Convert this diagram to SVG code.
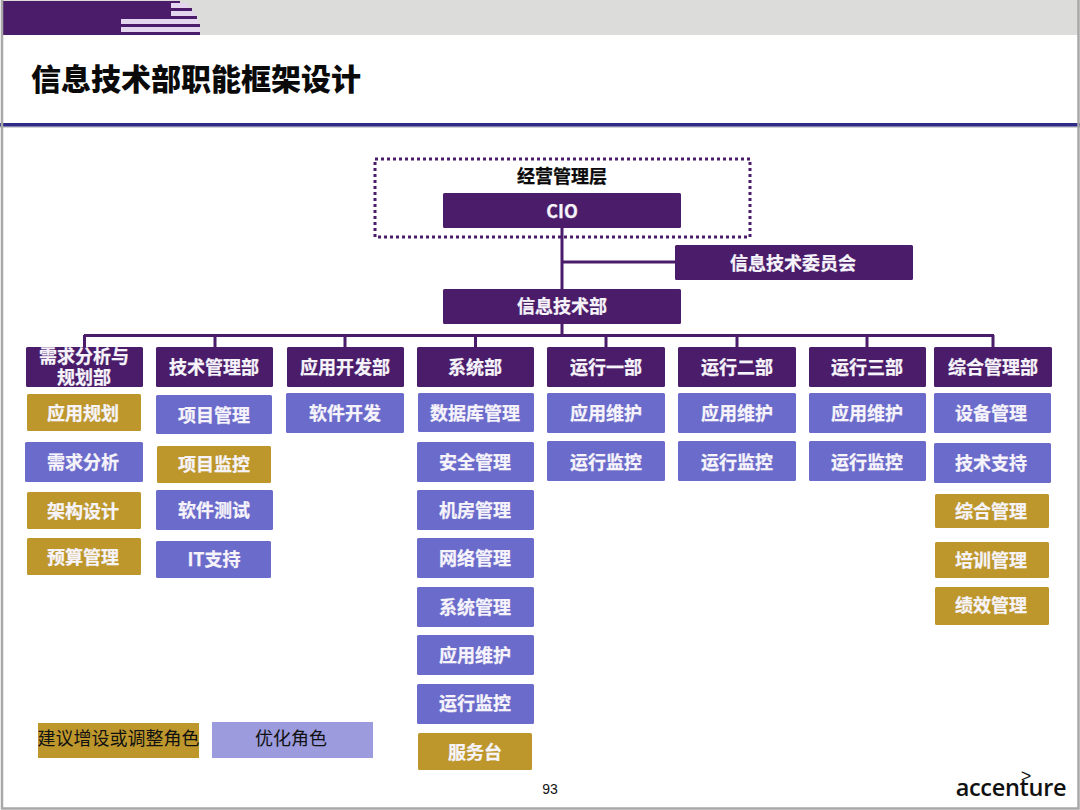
<svg xmlns="http://www.w3.org/2000/svg" width="1080" height="810" viewBox="0 0 1080 810">
<style>
text{font-family:"Noto Sans CJK SC","Noto Sans",sans-serif;text-anchor:middle}
.n rect{rx:1.5px}
.p rect{fill:#4a1c6a}
.b rect{fill:#6b6bcb}
.g rect{fill:#bd972c}
.n text{font-size:18px;font-weight:700;fill:#f6f4fa;stroke:#f6f4fa;stroke-width:.25px}
.c line{stroke:#4a1c6a;stroke-width:3;fill:none}
.k{font-size:18px;fill:#111}
</style>
<rect width="1080" height="810" fill="#fff"/>
<g id="frame">
<rect x="2" y="0" width="1076" height="35" fill="#dcdcda"/>
<path d="M2 1H180V3H171V8H192V11H171V16H197V19H121V24H200V27H121V32H200V35H2Z" fill="#4a1c6a"/>
<path d="M171 3H186L190 8H171ZM171 11H194L196 16H171ZM121 19H198L199 24H121ZM121 27H200V32H121Z" fill="#e4d6ee"/>
<rect x="0" y="126" width="1080" height="2" fill="#d4d4d8"/>
<rect x="0" y="123" width="1080" height="3.500" fill="#2e2a85"/>
<path d="M2 0V808.500H1078.500V0" fill="none" stroke="#a8a8a8" stroke-width="2.500"/>
<text x="196" y="90" style="font-size:30px;font-weight:900;fill:#0a0a0a">信息技术部职能框架设计</text>
</g>
<g class="c" id="connectors">
<line x1="562" y1="226" x2="562" y2="291"/>
<line x1="562" y1="262" x2="676" y2="262"/>
<line x1="562" y1="322" x2="562" y2="336"/>
<line x1="84" y1="335.500" x2="994" y2="335.500"/>
<line x1="84.500" y1="335" x2="84.500" y2="349"/>
<line x1="215" y1="335" x2="215" y2="349"/>
<line x1="345" y1="335" x2="345" y2="349"/>
<line x1="475.500" y1="335" x2="475.500" y2="349"/>
<line x1="606" y1="335" x2="606" y2="349"/>
<line x1="737" y1="335" x2="737" y2="349"/>
<line x1="867" y1="335" x2="867" y2="349"/>
<line x1="993" y1="335" x2="993" y2="349"/>
</g>
<rect id="mgmt-layer" x="375" y="159" width="375" height="78" fill="none" stroke="#4a1c6a" stroke-width="3" stroke-dasharray="3 3"/>
<text x="562" y="183" style="font-size:18px;font-weight:700;fill:#0a0a0a;stroke:#0a0a0a;stroke-width:.25px">经营管理层</text>
<g class="n p" id="cio"><rect x="443" y="193" width="238" height="35"/><text x="562" y="218">CIO</text></g>
<g class="n p" id="committee"><rect x="675" y="245" width="238" height="35"/><text x="793" y="270">信息技术委员会</text></g>
<g class="n p" id="it-dept"><rect x="443" y="289" width="238" height="35"/><text x="562" y="313">信息技术部</text></g>

<g class="n p" id="h1"><rect x="26" y="347" width="117" height="40"/><text x="84" y="363">需求分析与<tspan x="84" dy="21">规划部</tspan></text></g>
<g class="n p" id="h2"><rect x="156" y="347" width="117" height="40"/><text x="214" y="374">技术管理部</text></g>
<g class="n p" id="h3"><rect x="287" y="347" width="117" height="40"/><text x="345" y="374">应用开发部</text></g>
<g class="n p" id="h4"><rect x="417" y="347" width="117" height="40"/><text x="475" y="374">系统部</text></g>
<g class="n p" id="h5"><rect x="547" y="347" width="118" height="40"/><text x="606" y="374">运行一部</text></g>
<g class="n p" id="h6"><rect x="678" y="347" width="118" height="40"/><text x="737" y="374">运行二部</text></g>
<g class="n p" id="h7"><rect x="809" y="347" width="117" height="40"/><text x="867" y="374">运行三部</text></g>
<g class="n p" id="h8"><rect x="934" y="347" width="118" height="40"/><text x="993" y="374">综合管理部</text></g>

<g class="n g" id="c1a"><rect x="27" y="394" width="114" height="37"/><text x="83" y="420">应用规划</text></g>
<g class="n b" id="c1b"><rect x="25" y="442" width="118" height="40"/><text x="83" y="469">需求分析</text></g>
<g class="n g" id="c1c"><rect x="27" y="492" width="114" height="37"/><text x="83" y="518">架构设计</text></g>
<g class="n g" id="c1d"><rect x="27" y="538" width="114" height="37"/><text x="83" y="564">预算管理</text></g>

<g class="n b" id="c2a"><rect x="156" y="395" width="116" height="39"/><text x="214" y="422">项目管理</text></g>
<g class="n g" id="c2b"><rect x="157" y="446" width="114" height="37"/><text x="214" y="471">项目监控</text></g>
<g class="n b" id="c2c"><rect x="156" y="490" width="117" height="40"/><text x="214" y="517">软件测试</text></g>
<g class="n b" id="c2d"><rect x="156" y="541" width="115" height="37"/><text x="214" y="566">IT支持</text></g>

<g class="n b" id="c3a"><rect x="286" y="393" width="118" height="40"/><text x="345" y="420">软件开发</text></g>

<g class="n b" id="c4a"><rect x="418" y="393" width="116" height="39"/><text x="475" y="420">数据库管理</text></g>
<g class="n b" id="c4b"><rect x="417" y="442" width="117" height="40"/><text x="475" y="469">安全管理</text></g>
<g class="n b" id="c4c"><rect x="417" y="490" width="117" height="40"/><text x="475" y="517">机房管理</text></g>
<g class="n b" id="c4d"><rect x="417" y="538" width="117" height="40"/><text x="475" y="565">网络管理</text></g>
<g class="n b" id="c4e"><rect x="417" y="587" width="117" height="40"/><text x="475" y="614">系统管理</text></g>
<g class="n b" id="c4f"><rect x="417" y="635" width="117" height="40"/><text x="475" y="662">应用维护</text></g>
<g class="n b" id="c4g"><rect x="417" y="684" width="117" height="40"/><text x="475" y="710">运行监控</text></g>
<g class="n g" id="c4h"><rect x="418" y="733" width="114" height="37"/><text x="475" y="759">服务台</text></g>

<g class="n b" id="c5a"><rect x="547" y="393" width="118" height="40"/><text x="606" y="420">应用维护</text></g>
<g class="n b" id="c5b"><rect x="547" y="441" width="118" height="40"/><text x="606" y="469">运行监控</text></g>
<g class="n b" id="c6a"><rect x="678" y="393" width="118" height="40"/><text x="737" y="420">应用维护</text></g>
<g class="n b" id="c6b"><rect x="678" y="441" width="118" height="40"/><text x="737" y="469">运行监控</text></g>
<g class="n b" id="c7a"><rect x="809" y="393" width="117" height="40"/><text x="867" y="420">应用维护</text></g>
<g class="n b" id="c7b"><rect x="809" y="441" width="117" height="40"/><text x="867" y="469">运行监控</text></g>

<g class="n b" id="c8a"><rect x="934" y="393" width="117" height="40"/><text x="991" y="420">设备管理</text></g>
<g class="n b" id="c8b"><rect x="934" y="443" width="117" height="40"/><text x="991" y="470">技术支持</text></g>
<g class="n g" id="c8c"><rect x="935" y="494" width="114" height="34"/><text x="991" y="518">综合管理</text></g>
<g class="n g" id="c8d"><rect x="935" y="542" width="114" height="36"/><text x="991" y="567">培训管理</text></g>
<g class="n g" id="c8e"><rect x="935" y="587" width="114" height="38"/><text x="991" y="612">绩效管理</text></g>

<g id="legend-gold"><rect x="38" y="723" width="161" height="35" fill="#bd972c"/><text class="k" x="118.500" y="745">建议增设或调整角色</text></g>
<g id="legend-blue"><rect x="212" y="722" width="161" height="36" fill="#9b9bdd"/><text class="k" x="291" y="745">优化角色</text></g>
<text x="550" y="794" style="font-family:'Liberation Sans',sans-serif;font-size:14px;fill:#111">93</text>
<g id="logo"><text x="1011" y="796" style="font-family:'Open Sans',sans-serif;font-weight:600;font-size:23.500px;letter-spacing:-.3px;fill:#111">accenture</text>
<text x="1026" y="782" style="font-family:'Liberation Sans',sans-serif;font-size:18px;fill:#111">&gt;</text></g>
</svg>
